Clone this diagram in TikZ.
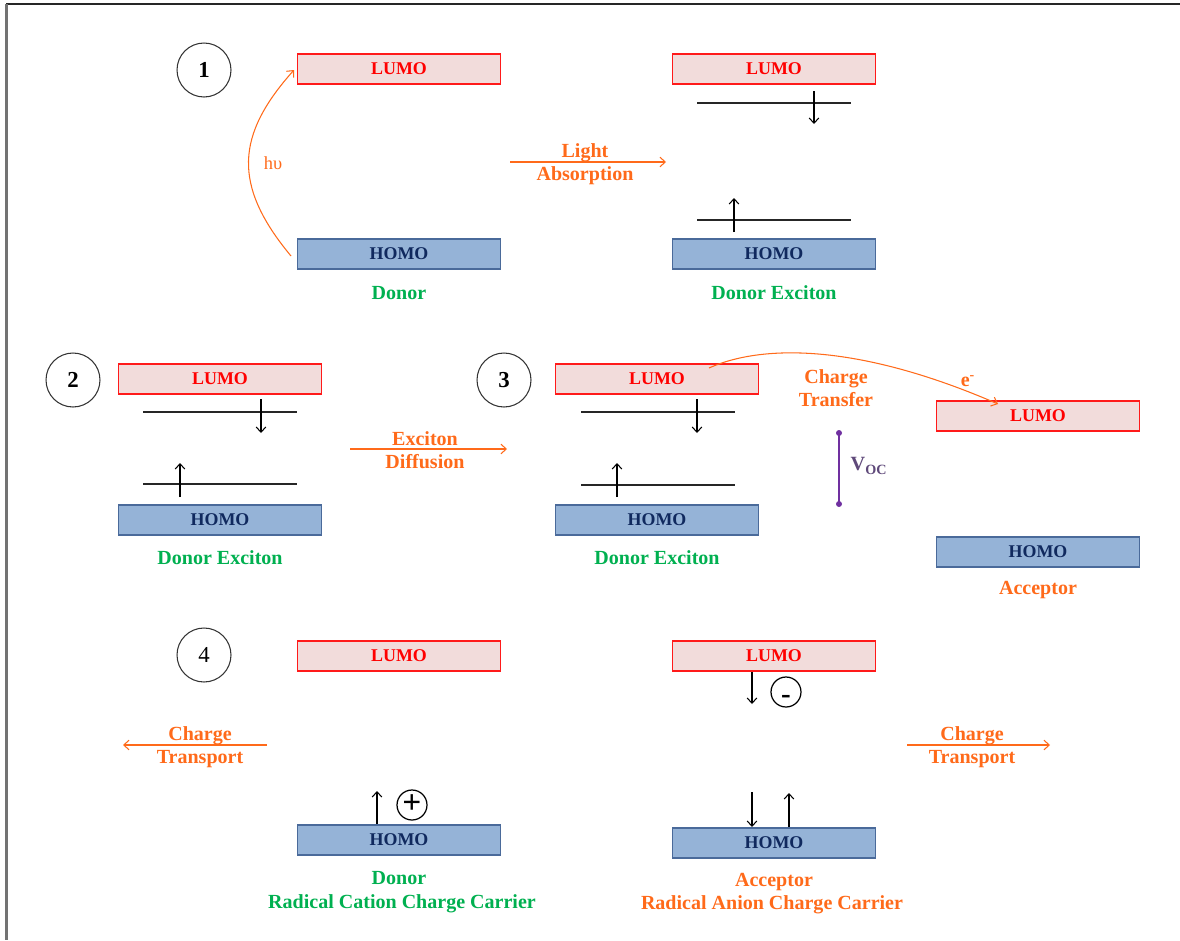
\documentclass[tikz,border=0pt]{standalone}
\usepackage{fontspec}
\setmainfont{Liberation Serif}
\usetikzlibrary{arrows.meta}
\definecolor{lumofill}{HTML}{F2DCDB}
\definecolor{lumoline}{HTML}{FF1A1A}
\definecolor{lumotext}{HTML}{FF0000}
\definecolor{homofill}{HTML}{95B3D7}
\definecolor{homoline}{HTML}{4A6A9A}
\definecolor{homotext}{HTML}{10295E}
\definecolor{orng}{HTML}{FF6A1A}
\definecolor{grn}{HTML}{00B050}
\definecolor{purp}{HTML}{7030A0}
\definecolor{purptext}{HTML}{5F497A}
\tikzset{
  x=0.02cm, y=-0.02cm,
  lumo/.style={draw=lumoline, fill=lumofill, line width=0.6pt, minimum width=4.06cm, minimum height=0.6cm, inner sep=0pt, text=lumotext, font=\fontsize{10.2}{12}\selectfont\bfseries},
  homo/.style={draw=homoline, fill=homofill, line width=0.6pt, minimum width=4.06cm, minimum height=0.6cm, inner sep=0pt, text=homotext, font=\fontsize{10.2}{12}\selectfont\bfseries},
  numc/.style={draw=black!80, circle, line width=0.6pt, minimum size=1.08cm, inner sep=0pt, font=\fontsize{13}{15}\selectfont\bfseries},
  chargec/.style={draw=black, circle, line width=0.7pt, minimum size=0.6cm, inner sep=0pt},
  lbl/.style={inner sep=0pt, font=\fontsize{11.4}{13}\selectfont\bfseries, text height=1.5ex, text depth=0.4ex, yshift=-1pt},
  glbl/.style={lbl, text=grn},
  olbl/.style={lbl, text=orng},
  level/.style={draw=black!85, line width=0.6pt},
  elec/.style={draw=black, line width=0.6pt, -{Straight Barb[length=3pt,width=5.5pt]}},
  proc/.style={draw=orng, line width=0.6pt, -{Straight Barb[length=3pt,width=5.5pt]}},
  vocline/.style={draw=purp, line width=0.8pt}
}
\begin{document}
\begin{tikzpicture}
\useasboundingbox (0,0) rectangle (1180,940);
% frame
\draw[line width=1.1pt, black!85] (6,4) -- (1180,4);
\draw[line width=1.2pt, black!55] (6.5,4) -- (6.5,940);

% ===== Panel 1 =====
\node[numc] (n1) at (204,70) {1};
\node[lumo] (L1) at (399,69) {LUMO};
\node[homo] (H1) at (399,254) {HOMO};
\node[glbl] (d1) at (399,293) {Donor};
\coordinate (hv0) at (291,256);
\coordinate (hv1) at (294,70);
\draw[proc] (hv0) .. controls (232,185) and (236,135) .. (hv1);
\node[inner sep=0pt, text=orng, font=\fontsize{10.5}{12}\selectfont] (hv) at (273,163) {hυ};

\coordinate (la0) at (510,162);
\coordinate (la1) at (666,162);
\draw[proc] (la0) -- (la1);
\node[olbl] (lat) at (585,151) {Light};
\node[olbl] (lab) at (585,174) {Absorption};

\node[lumo] (L2) at (774,69) {LUMO};
\node[homo] (H2) at (774,254) {HOMO};
\node[glbl] (d2) at (774,293) {Donor Exciton};
\coordinate (u2a) at (697,103); \coordinate (u2b) at (851,103);
\coordinate (w2a) at (697,220); \coordinate (w2b) at (851,220);
\draw[level] (u2a) -- (u2b);
\draw[level] (w2a) -- (w2b);
\coordinate (e2a) at (814,91); \coordinate (e2b) at (814,124);
\coordinate (h2a) at (734,232); \coordinate (h2b) at (734,198);
\draw[elec] (e2a) -- (e2b);
\draw[elec] (h2a) -- (h2b);

% ===== Panel 2 =====
\node[numc] (n2) at (73,380) {2};
\node[lumo] (L3) at (220,379) {LUMO};
\node[homo] (H3) at (220,520) {HOMO};
\node[glbl] (d3) at (220,558) {Donor Exciton};
\coordinate (u3a) at (143,412); \coordinate (u3b) at (297,412);
\coordinate (w3a) at (143,484); \coordinate (w3b) at (297,484);
\draw[level] (u3a) -- (u3b);
\draw[level] (w3a) -- (w3b);
\coordinate (e3a) at (261,399); \coordinate (e3b) at (261,433);
\coordinate (h3a) at (180,497); \coordinate (h3b) at (180,463);
\draw[elec] (e3a) -- (e3b);
\draw[elec] (h3a) -- (h3b);

\coordinate (ed0) at (350,449);
\coordinate (ed1) at (507,449);
\draw[proc] (ed0) -- (ed1);
\node[olbl] (edt) at (425,439) {Exciton};
\node[olbl] (edb) at (425,462) {Diffusion};

% ===== Panel 3 =====
\node[numc] (n3) at (504,380) {3};
\node[lumo] (L4) at (657,379) {LUMO};
\node[homo] (H4) at (657,520) {HOMO};
\node[glbl] (d4) at (657,558) {Donor Exciton};
\coordinate (u4a) at (581,412); \coordinate (u4b) at (735,412);
\coordinate (w4a) at (581,485); \coordinate (w4b) at (735,485);
\draw[level] (u4a) -- (u4b);
\draw[level] (w4a) -- (w4b);
\coordinate (e4a) at (697,399); \coordinate (e4b) at (697,433);
\coordinate (h4a) at (617,497); \coordinate (h4b) at (617,463);
\draw[elec] (e4a) -- (e4b);
\draw[elec] (h4a) -- (h4b);

\node[lumo] (L5) at (1038,416) {LUMO};
\node[homo] (H5) at (1038,552) {HOMO};
\node[olbl] (a5) at (1038,588) {Acceptor};

\coordinate (ct0) at (709,368);
\coordinate (ct1) at (998,404);
\draw[proc] (ct0) .. controls (760,345) and (855,342) .. (ct1);
\node[olbl] (ctt) at (836,377) {Charge};
\node[olbl] (ctb) at (836,400) {Transfer};
\node[olbl] (em) at (968,380) {e\textsuperscript{-}};

\coordinate (v0) at (839,433);
\coordinate (v1) at (839,504);
\draw[vocline] (v0) -- (v1);
\fill[purp] (v0) circle (3);
\fill[purp] (v1) circle (3);
\node[inner sep=0pt, text=purptext, font=\fontsize{11.5}{13}\selectfont\bfseries] (voc) at (869,466) {V\textsubscript{OC}};

% ===== Panel 4 =====
\node[numc, font=\fontsize{13}{15}\selectfont] (n4) at (204,655) {4};
\coordinate (tl0) at (267,745);
\coordinate (tl1) at (123,745);
\draw[proc] (tl0) -- (tl1);
\node[olbl] (tlt) at (200,734) {Charge};
\node[olbl] (tlb) at (200,757) {Transport};

\node[lumo] (L6) at (399,656) {LUMO};
\node[homo] (H6) at (399,840) {HOMO};
\coordinate (h6a) at (377,824); \coordinate (h6b) at (377,791);
\draw[elec] (h6a) -- (h6b);
\node[chargec, font=\fontsize{19}{19}\selectfont\bfseries] (plus) at (412,805) {\raisebox{0pt}[0.506em][0pt]{+}};
\node[glbl] (d6) at (399,878) {Donor};
\node[glbl] (d6b) at (402,902) {Radical Cation Charge Carrier};

\node[lumo] (L7) at (774,656) {LUMO};
\node[homo] (H7) at (774,843) {HOMO};
\coordinate (e7a) at (752,672); \coordinate (e7b) at (752,704);
\draw[elec] (e7a) -- (e7b);
\node[chargec, font=\fontsize{16.5}{17}\selectfont\bfseries] (minus) at (786,692) {\raisebox{-2.6pt}[0.458em][0pt]{-}};
\coordinate (e8a) at (752,792); \coordinate (e8b) at (752,827);
\draw[elec] (e8a) -- (e8b);
\coordinate (h8a) at (789,827); \coordinate (h8b) at (789,793);
\draw[elec] (h8a) -- (h8b);
\node[olbl] (a7) at (774,880) {Acceptor};
\node[olbl] (a7b) at (772,903) {Radical Anion Charge Carrier};

\coordinate (tr0) at (907,745);
\coordinate (tr1) at (1050,745);
\draw[proc] (tr0) -- (tr1);
\node[olbl] (trt) at (972,734) {Charge};
\node[olbl] (trb) at (972,757) {Transport};
\end{tikzpicture}
\end{document}
